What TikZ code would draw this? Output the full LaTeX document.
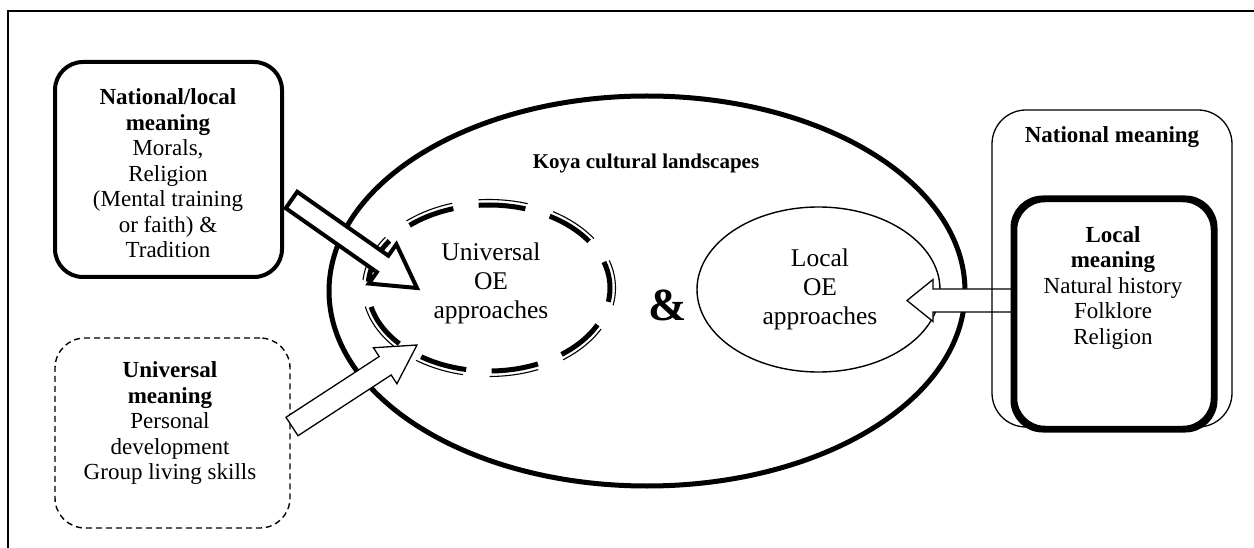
\documentclass[tikz,border=0pt]{standalone}
\usepackage{fontspec}
\setmainfont{Liberation Serif}
\usetikzlibrary{calc,shapes.geometric}
\newcommand\blockarrow[6]{%
  \coordinate (#2-#3-base) at ($(#3)!#6!(#2)$);
  \draw[#1] ($(#2)!#4!90:(#3)$) -- ($(#2-#3-base)!#4!90:(#3)$) -- ($(#2-#3-base)!#5!90:(#3)$) -- (#3)
    -- ($(#2-#3-base)!#5!-90:(#3)$) -- ($(#2-#3-base)!#4!-90:(#3)$) -- ($(#2)!#4!-90:(#3)$) -- cycle;}
\begin{document}
\begin{tikzpicture}[x=1pt,y=-1pt,
  txt/.style={font=\fontsize{23}{25.5}\selectfont, align=center, inner sep=0pt},
  bigtxt/.style={font=\fontsize{25.5}{29}\selectfont, align=center, inner sep=0pt},
  thickbox/.style={draw, line width=4pt, rounded corners=28pt, inner sep=0pt},
  dashbox/.style={draw, line width=1.4pt, dash pattern=on 6pt off 4pt, rounded corners=30pt, inner sep=0pt},
  thinbox/.style={draw, line width=1.3pt, rounded corners=34pt, inner sep=0pt},
  arrthick/.style={draw, fill=white, line width=4pt, line join=miter},
  arrthin/.style={draw, fill=white, line width=1.3pt, line join=miter}]
\useasboundingbox (0,0) rectangle (1254,548);
% frame
\coordinate (fbl) at (8,548);
\coordinate (ftl) at (8,11);
\coordinate (ftr) at (1254,11);
\draw[line width=2pt] (fbl) -- (ftl) -- (ftr);
% big ellipse
\node[ellipse, draw, line width=5pt, minimum width=636pt, minimum height=390pt, inner sep=0pt] (big) at (647,291) {};
\node[inner sep=0pt, font=\fontsize{21}{24}\selectfont\bfseries] (koya) at (646,163) {Koya cultural landscapes};
% local ellipse
\node[ellipse, draw, line width=1.4pt, minimum width=243pt, minimum height=165pt, inner sep=0pt] (local) at (818.5,289.5) {};
\node[bigtxt] (localt) at (820,289) {Local\\OE\\approaches};
% universal dashed double ellipse
\coordinate (uc) at (489,288);
\draw[line width=5pt, dash pattern=on 47pt off 25.5pt, dash phase=20pt] (uc) ellipse [x radius=121pt, y radius=83pt];
\draw[line width=1.1pt, dash pattern=on 49.3pt off 26.7pt, dash phase=20.8pt] (uc) ellipse [x radius=126.5pt, y radius=88.5pt];
\node[bigtxt] (univt) at (491,283) {Universal\\OE\\approaches};
% ampersand
\node[inner sep=0pt, font=\fontsize{46}{50}\selectfont\bfseries] (amp) at (668,305) {\&};
% left boxes
\node[thickbox, minimum width=227pt, minimum height=215pt] (b1) at (168.5,169.5) {};
\node[txt] (b1t) at (168,173.5) {\textbf{National/local}\\\textbf{meaning}\\Morals,\\Religion\\(Mental training\\or faith) \&\\Tradition};
\node[dashbox, minimum width=235pt, minimum height=190pt] (b2) at (172.5,433) {};
\node[txt] (b2t) at (170,423.5) {\textbf{Universal}\\\textbf{meaning}\\Personal\\development\\Group living skills};
% right inner box
\node[thickbox, line width=4.5pt, rounded corners=30pt, minimum width=198pt, minimum height=228pt] (b4) at (1114,314) {};
\node[txt] (b4t) at (1113,288) {\textbf{Local}\\\textbf{meaning}\\Natural history\\Folklore\\Religion};
% arrows
\coordinate (a1s) at (291.5,200);
\coordinate (a1e) at (417,288);
\blockarrow{arrthick}{a1s}{a1e}{10pt}{24pt}{42pt}
\coordinate (a2s) at (292,426.5);
\coordinate (a2e) at (417,345);
\blockarrow{arrthin}{a2s}{a2e}{11pt}{21.5pt}{38pt}
\coordinate (a3s) at (b4.west |- 0,300.5);
\coordinate (a3e) at (907,300.5);
\blockarrow{arrthin}{a3s}{a3e}{11.5pt}{21pt}{26pt}
% right outer box
\node[thinbox, minimum width=240pt, minimum height=317pt] (b3) at (1112,268.5) {};
\node[txt, font=\fontsize{23}{25.5}\selectfont\bfseries] (b3t) at (1112,137) {National meaning};
\draw[line width=4.5pt, rounded corners=30pt] (b4.south west) rectangle (b4.north east);
\end{tikzpicture}
\end{document}
